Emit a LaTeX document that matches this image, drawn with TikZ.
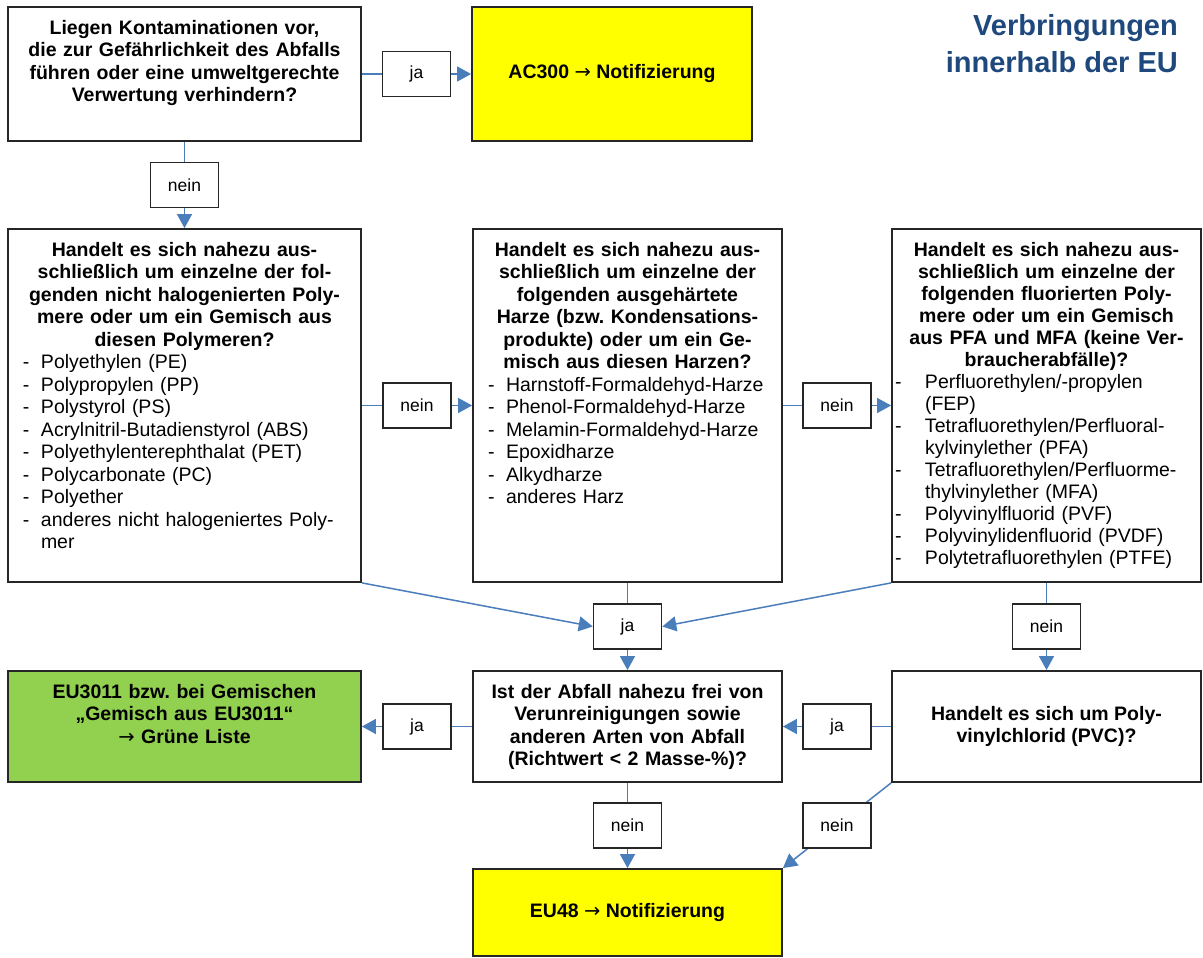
\documentclass[tikz,border=0pt]{standalone}
\usepackage{fontspec}
\setmainfont{Liberation Sans}
\newfontfamily\arrowfont{DejaVu Sans}
\usetikzlibrary{arrows.meta}
\definecolor{linkblue}{HTML}{4A7EBB}
\definecolor{titleblue}{HTML}{1F497D}
\definecolor{notifyellow}{HTML}{FFFF00}
\definecolor{greenlist}{HTML}{92D050}
\setlength{\parindent}{0pt}
\frenchspacing
\newlength{\dashw}
\setlength{\dashw}{18pt}
\newcommand{\itm}[1]{\noindent\makebox[\dashw][l]{-}\mbox{#1}\par}
\newcommand{\cnt}[1]{\noindent\hspace*{\dashw}\mbox{#1}\par}
\newcommand{\rarr}{{\arrowfont\mdseries →}}
\begin{document}
\begin{tikzpicture}[x=1pt,y=-1pt,
		box/.style={draw=black!85,line width=1.8pt,inner sep=0pt},
		lbl/.style={draw=black!85,fill=white,line width=1.6pt,minimum width=68pt,minimum height=45pt,inner sep=0pt,font=\fontsize{17.5}{20}\selectfont},
		ask/.style={inner sep=0pt,anchor=north,align=center,font=\fontsize{19.5}{22.5}\selectfont\bfseries},
		lst/.style={inner sep=0pt,anchor=north,align=left,font=\fontsize{19.5}{22.5}\selectfont},
		conn/.style={draw=linkblue,line width=1.5pt,-{Triangle[length=14pt,width=15pt]}}]
			\useasboundingbox (0,0) rectangle (1203,958);
			\node[anchor=north east,align=right,inner sep=0pt,text=titleblue,font=\fontsize{29}{37}\selectfont\bfseries] (title) at (1178,14) {Verbringungen\\innerhalb der EU};
			\node[box,minimum width=353pt,minimum height=134pt] (a) at (184.5,74) {};
			\node[ask,text width=340pt] (atxt) at ([yshift=-14pt]a.north) {Liegen Kontaminationen vor,\\die zur Gefährlichkeit des Abfalls\\führen oder eine umweltgerechte\\Verwertung verhindern?};
			\node[box,fill=notifyellow,minimum width=280pt,minimum height=134pt,font=\fontsize{19.5}{22.5}\selectfont\bfseries] (ac300) at (612,74) {AC300 \rarr{} Notifizierung};
			\node[box,minimum width=353pt,minimum height=353pt] (b1) at (184.5,405.5) {};
			\node[lst,text width=323pt] (b1txt) at ([yshift=-14pt]b1.north) {{\centering\bfseries Handelt es sich nahezu aus-\\schließlich um einzelne der fol-\\genden nicht halogenierten Poly-\\mere oder um ein Gemisch aus\\diesen Polymeren?\par}
				\itm{Polyethylen (PE)}
				\itm{Polypropylen (PP)}
				\itm{Polystyrol (PS)}
				\itm{Acrylnitril-Butadienstyrol (ABS)}
				\itm{Polyethylenterephthalat (PET)}
				\itm{Polycarbonate (PC)}
				\itm{Polyether}
				\itm{anderes nicht halogeniertes Poly-}
				\cnt{mer}};
			\node[box,minimum width=309pt,minimum height=353pt] (b2) at (627.5,405.5) {};
			\node[lst,text width=279pt] (b2txt) at ([yshift=-14pt]b2.north) {{\centering\bfseries Handelt es sich nahezu aus-\\schließlich um einzelne der\\folgenden ausgehärtete\\Harze (bzw. Kondensations-\\produkte) oder um ein Ge-\\misch aus diesen Harzen?\par}
				\itm{Harnstoff-Formaldehyd-Harze}
				\itm{Phenol-Formaldehyd-Harze}
				\itm{Melamin-Formaldehyd-Harze}
				\itm{Epoxidharze}
				\itm{Alkydharze}
				\itm{anderes Harz}};
			\node[box,minimum width=309pt,minimum height=353pt] (b3) at (1046.5,405.5) {};
			\node[lst,text width=303pt,font=\fontsize{19.5}{22}\selectfont] (b3txt) at ([yshift=-14pt]b3.north) {\setlength{\dashw}{30pt}{\centering\bfseries Handelt es sich nahezu aus-\\schließlich um einzelne der\\folgenden fluorierten Poly-\\mere oder um ein Gemisch\\aus PFA und MFA (keine Ver-\\braucherabfälle)?\par}
				\itm{Perfluorethylen/-propylen}
				\cnt{(FEP)}
				\itm{Tetrafluorethylen/Perfluoral-}
				\cnt{kylvinylether (PFA)}
				\itm{Tetrafluorethylen/Perfluorme-}
				\cnt{thylvinylether (MFA)}
				\itm{Polyvinylfluorid (PVF)}
				\itm{Polyvinylidenfluorid (PVDF)}
				\itm{Polytetrafluorethylen (PTFE)}};
			\node[box,fill=greenlist,minimum width=353pt,minimum height=111pt] (green) at (184.5,726.5) {};
			\node[ask,text width=340pt] (greentxt) at ([yshift=-14pt]green.north) {EU3011 bzw. bei Gemischen\\„Gemisch aus EU3011“\\\rarr{} Grüne Liste};
			\node[box,minimum width=309pt,minimum height=111pt] (c) at (627.5,726.5) {};
			\node[ask,text width=300pt] (ctxt) at ([yshift=-14pt]c.north) {Ist der Abfall nahezu frei von\\Verunreinigungen sowie\\anderen Arten von Abfall\\(Richtwert < 2 Masse-\%)?};
			\node[box,minimum width=309pt,minimum height=111pt,align=center,font=\fontsize{19.5}{22.5}\selectfont\bfseries] (d) at (1046.5,726.5) {Handelt es sich um Poly-\\vinylchlorid (PVC)?};
			\node[box,fill=notifyellow,minimum width=309pt,minimum height=87pt,font=\fontsize{19.5}{22.5}\selectfont\bfseries] (eu48) at (627.5,912.5) {EU48 \rarr{} Notifizierung};
			\draw[conn] (a) -- node[lbl] (ja1) {ja} (ac300);
			\draw[conn] (a) -- node[lbl] (nein1) {nein} (b1);
			\draw[conn] (b1) -- node[lbl] (nein2) {nein} (b2);
			\draw[conn] (b2) -- node[lbl] (nein3) {nein} (b3);
			\draw[conn] (b2) -- node[lbl] (ja2) {ja} (c);
			\draw[conn] (b3) -- node[lbl] (nein4) {nein} (d);
			\draw[conn] (b1.south east) -- (ja2.west);
			\draw[conn] (b3.south west) -- (ja2.east);
			\draw[conn] (d) -- node[lbl] (ja3) {ja} (c);
			\draw[conn] (c) -- node[lbl] (ja4) {ja} (green);
			\draw[conn] (c) -- node[lbl] (nein5) {nein} (eu48);
			\draw[conn] (d.south west) -- node[lbl] (nein6) {nein} (eu48.north east);
		\end{tikzpicture}
\end{document}
